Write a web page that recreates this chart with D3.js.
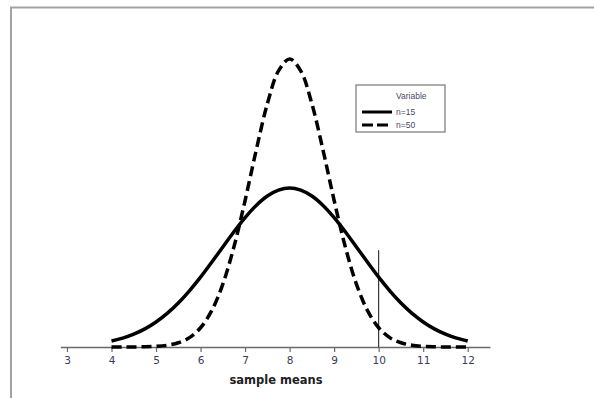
<!DOCTYPE html>
<html>
<head>
<meta charset="utf-8">
<script src="https://cdn.jsdelivr.net/npm/d3@7"></script>
<style>
  body { margin: 0; background: #fff; }
  svg { display: block; }
</style>
</head>
<body>
<div class="chart"></div>
<script>
// sample mean values along the x axis
var xs = [4, 4.25, 4.5, 4.75, 5, 5.25, 5.5, 5.75, 6, 6.25, 6.5, 6.75, 7, 7.25, 7.5, 7.75,
          8, 8.25, 8.5, 8.75, 9, 9.25, 9.5, 9.75, 10, 10.25, 10.5, 10.75, 11, 11.25, 11.5, 11.75, 12];

// density, n=15 (solid)
var n15 = [0.0096, 0.0142, 0.0207, 0.0292, 0.0403, 0.0541, 0.0709, 0.0905, 0.1125, 0.1365, 0.1612,
           0.1857, 0.2085, 0.2281, 0.2432, 0.2527, 0.256, 0.2527, 0.2432, 0.2281, 0.2085, 0.1857,
           0.1612, 0.1365, 0.1125, 0.0905, 0.0709, 0.0541, 0.0403, 0.0292, 0.0207, 0.0142, 0.0096];

// density, n=50 (dashed)
var n50 = [0, 0, 0.0001, 0.0004, 0.0011, 0.0028, 0.0068, 0.0151, 0.031, 0.0585, 0.1014,
           0.1614, 0.236, 0.3172, 0.3918, 0.4448, 0.464, 0.4448, 0.3918, 0.3172, 0.236, 0.1614,
           0.1014, 0.0585, 0.031, 0.0151, 0.0068, 0.0028, 0.0011, 0.0004, 0.0001, 0, 0];

var tickValues = [3, 4, 5, 6, 7, 8, 9, 10, 11, 12];
var refX = 10, refTop = 0.156;
var seriesNames = ["n=15", "n=50"];

var width = 594, height = 398;

// set the ranges
var x = d3.scaleLinear().domain([2.85, 12.5]).range([60.3, 490]);
var y = d3.scaleLinear().domain([0, 0.5]).range([347, 36.6]);

var svg = d3.select(".chart").append("svg")
    .attr("width", width)
    .attr("height", height);

// outer frame
svg.append("rect")
    .attr("x", 11).attr("y", 7.5)
    .attr("width", 620).attr("height", 420)
    .style("fill", "none")
    .style("stroke", "#a3a3a3")
    .style("stroke-width", 2);

var line = function(vals) {
  return d3.line()
      .x(function(d, i) { return x(xs[i]); })
      .y(function(d) { return y(d); })
      .curve(d3.curveCatmullRom)(vals);
};

// x axis
var xAxis = svg.append("g")
    .attr("transform", "translate(0," + y(0) + ")")
    .call(d3.axisBottom(x).tickValues(tickValues).tickSize(5).tickSizeOuter(0).tickPadding(5));
xAxis.select(".domain").style("stroke", "#6a6a6a").style("stroke-width", 1.5);
xAxis.selectAll(".tick line").style("stroke", "#6a6a6a").style("stroke-width", 1.2);
xAxis.selectAll(".tick text")
    .style("font-family", "DejaVu Sans, Verdana, sans-serif")
    .style("font-size", "10.5px")
    .style("fill", "#3a3a5a");

svg.append("text")
    .attr("x", 276).attr("y", 384)
    .attr("text-anchor", "middle")
    .style("font-family", "DejaVu Sans, Verdana, sans-serif")
    .style("font-weight", "bold")
    .style("font-size", "11.5px")
    .style("fill", "#222")
    .text("sample means");

// reference line at 10
svg.append("line")
    .attr("x1", x(refX)).attr("x2", x(refX))
    .attr("y1", y(0)).attr("y2", y(refTop))
    .style("stroke", "#111")
    .style("stroke-width", 1);

// n=15 curve
svg.append("path")
    .attr("d", line(n15))
    .style("fill", "none")
    .style("stroke", "#000")
    .style("stroke-width", 3.5);

// n=50 curve
svg.append("path")
    .attr("d", line(n50))
    .style("fill", "none")
    .style("stroke", "#000")
    .style("stroke-width", 3.5)
    .style("stroke-dasharray", "10,5");

// legend
var lg = svg.append("g").attr("transform", "translate(356,85)");
lg.append("rect")
    .attr("width", 89).attr("height", 47)
    .style("fill", "#fff")
    .style("stroke", "#777")
    .style("stroke-width", 1.2);
lg.append("text")
    .attr("x", 40).attr("y", 14)
    .style("font-family", "Liberation Sans, Arial, sans-serif")
    .style("font-size", "8.5px")
    .style("fill", "#4a4a66")
    .text("Variable");
seriesNames.forEach(function(name, i) {
  var yy = 27 + i * 13;
  lg.append("line")
      .attr("x1", 6).attr("x2", 36)
      .attr("y1", yy).attr("y2", yy)
      .style("stroke", "#000")
      .style("stroke-width", 3)
      .style("stroke-dasharray", i === 1 ? "11,4" : null);
  lg.append("text")
      .attr("x", 40).attr("y", yy + 3)
      .style("font-family", "Liberation Sans, Arial, sans-serif")
      .style("font-size", "8.5px")
      .style("fill", "#4a4a66")
      .text(name);
});
</script>
</body>
</html>
